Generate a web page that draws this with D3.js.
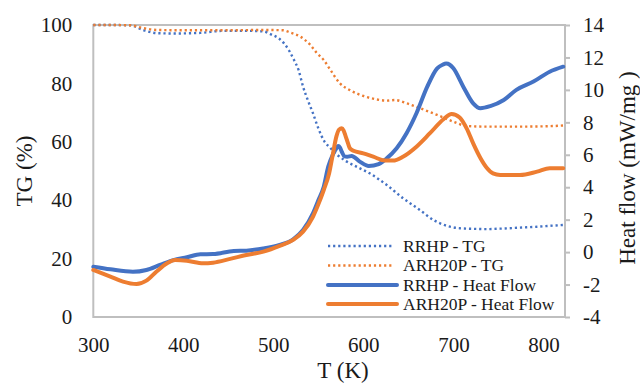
<!DOCTYPE html>
<html>
<head>
<meta charset="utf-8">
<script src="https://cdn.jsdelivr.net/npm/d3@7/dist/d3.min.js"></script>
<style>
html,body{margin:0;padding:0;background:#fff;}
svg{display:block;}
text{font-family:"Liberation Serif","Times New Roman",serif;fill:#1a1a1a;}
</style>
</head>
<body>
<svg id="chart" width="640" height="383"></svg>
<script>
// ---- data ----
const rrhpTgT   = [300,320,341,356,371,390,419,444,470,489,498,507,518,523,528,533,539,544,550,557,563,570,580,593,607,626,644,663,678,693,707,722,737,755,774,793,811,822];
const rrhpTg    = [100,100,99.9,98.2,97.2,97.1,97.3,98.0,98.0,97.8,96.7,95.2,91.0,88.0,84.6,78.9,73.7,69.8,64.6,60.0,58.0,55.8,53.5,51.4,49.2,45.2,40.7,36.6,33.2,31.2,30.4,30.2,30.1,30.3,30.6,30.9,31.3,31.5];

const arhTgT    = [300,320,341,356,371,400,450,490,511,519,530,541,548,556,563,574,585,600,615,626,635,648,663,682,700,715,737,774,811,822];
const arhTg     = [100,100,99.9,98.9,98.3,98.2,98.2,98.3,98.2,97.4,96.0,93.2,90.5,88.0,84.8,80.0,77.7,75.7,74.5,74.1,74.3,73.2,71.5,69.2,66.9,65.4,65.2,65.2,65.4,65.6];

const rrhpHfT   = [300,319,344,359,374,389,404,419,433,456,470,489,507,522,533,544,550,556,561,566,570,572,574,576,579,582,587,596,606,617,626,637,648,659,671,682,688,692,696,700,711,722,730,741,756,770,789,807,822];
const rrhpHf    = [-0.90,-1.06,-1.21,-1.10,-0.79,-0.49,-0.32,-0.13,-0.12,0.07,0.09,0.23,0.44,0.79,1.36,2.39,3.20,4.03,5.27,6.00,6.40,6.54,6.45,6.19,5.90,5.88,5.93,5.58,5.31,5.43,5.78,6.40,7.33,8.56,10.20,11.33,11.55,11.62,11.55,11.33,10.20,9.17,8.87,9.00,9.38,10.00,10.51,11.12,11.43];

const arhHfT    = [300,319,333,348,359,370,382,391,404,422,433,452,470,489,507,522,533,544,550,556,562,566,570,573,576,578,580,583,585,589,600,611,624,633,644,659,674,689,698,707,715,722,730,737,744,752,760,774,793,807,822];
const arhHf     = [-1.10,-1.51,-1.82,-1.97,-1.76,-1.21,-0.69,-0.49,-0.53,-0.69,-0.65,-0.42,-0.18,0.03,0.38,0.75,1.26,2.18,2.95,3.83,4.86,6.00,7.12,7.55,7.63,7.50,7.20,6.70,6.40,6.25,6.09,5.88,5.64,5.64,5.88,6.50,7.33,8.19,8.52,8.30,7.60,6.70,5.80,5.20,4.85,4.75,4.75,4.75,4.96,5.17,5.17];

const xTicks    = [300,400,500,600,700,800];
const yLeftTicks  = [0,20,40,60,80,100];
const yRightTicks = [-4,-2,0,2,4,6,8,10,12,14];

const seriesNames = ["RRHP - TG","ARH20P - TG","RRHP - Heat Flow","ARH20P - Heat Flow"];
const colors = ["#4472C4","#ED7D31","#4472C4","#ED7D31"];

// ---- layout ----
const L = 93.3, R = 565, T = 25, B = 317;
const svg = d3.select("#chart");

const x  = d3.scaleLinear().domain([300, 824]).range([L, R]);
const yL = d3.scaleLinear().domain([0, 100]).range([B, T]);
const yR = d3.scaleLinear().domain([-4, 14]).range([B, T]);

const frameColor = "#bfbfbf";

// frame
svg.append("rect").attr("x", L).attr("y", T).attr("width", R - L).attr("height", B - T)
  .attr("fill", "none").attr("stroke", frameColor).attr("stroke-width", 2);

// axes
const gx = svg.append("g").attr("transform", `translate(0,${B})`)
  .call(d3.axisBottom(x).tickValues(xTicks).tickSize(0).tickPadding(20).tickFormat(d => String(d)));
const gl = svg.append("g").attr("transform", `translate(${L},0)`)
  .call(d3.axisLeft(yL).tickValues(yLeftTicks).tickSize(0).tickPadding(21).tickFormat(d => String(d)));
const gr = svg.append("g").attr("transform", `translate(${R},0)`)
  .call(d3.axisRight(yR).tickValues(yRightTicks).tickSize(5).tickPadding(13).tickFormat(d => String(d)));

[gx, gl, gr].forEach(g => {
  g.attr("font-family", null);
  g.select(".domain").remove();
  g.selectAll("text").attr("font-size", 21).attr("font-family", '"Liberation Serif", serif').attr("fill", "#1a1a1a");
  g.selectAll("line").attr("stroke", frameColor).attr("stroke-width", 2);
});

// lines
const lineL = (ts, vs) => d3.line().x((d, i) => x(ts[i])).y((d, i) => yL(vs[i])).curve(d3.curveMonotoneX)(vs);
const lineR = (ts, vs) => d3.line().x((d, i) => x(ts[i])).y((d, i) => yR(vs[i])).curve(d3.curveMonotoneX)(vs);

const dotted = {"stroke-width": 2.4, "stroke-dasharray": "2.2 2.9", "stroke-linecap": "butt"};
const solid  = {"stroke-width": 4, "stroke-linecap": "round", "stroke-linejoin": "round"};

function addPath(d, color, style) {
  const p = svg.append("path").attr("d", d).attr("fill", "none").attr("stroke", color);
  Object.entries(style).forEach(([k, v]) => p.attr(k, v));
}
addPath(lineL(rrhpTgT, rrhpTg), colors[0], dotted);
addPath(lineL(arhTgT, arhTg), colors[1], dotted);
addPath(lineR(rrhpHfT, rrhpHf), colors[2], solid);
addPath(lineR(arhHfT, arhHf), colors[3], solid);

// legend
const legY = [246, 265.5, 285, 304];
seriesNames.forEach((name, i) => {
  const isSolid = i >= 2;
  const ln = svg.append("line").attr("x1", 328).attr("x2", isSolid ? 397 : 393)
    .attr("y1", legY[i]).attr("y2", legY[i]).attr("stroke", colors[i]);
  Object.entries(isSolid ? solid : dotted).forEach(([k, v]) => ln.attr(k, v));
  svg.append("text").attr("x", 403).attr("y", legY[i]).attr("dy", "0.34em")
    .attr("font-size", 17.5).text(name);
});

// axis titles
svg.append("text").attr("transform", "translate(24,171) rotate(-90)")
  .attr("text-anchor", "middle").attr("dy", "0.34em").attr("font-size", 23).text("TG (%)");
svg.append("text").attr("transform", "translate(627,168) rotate(-90)")
  .attr("text-anchor", "middle").attr("dy", "0.34em").attr("font-size", 23).text("Heat flow (mW/mg )");
svg.append("text").attr("x", 343).attr("y", 378)
  .attr("text-anchor", "middle").attr("font-size", 23).text("T (K)");
</script>
</body>
</html>
